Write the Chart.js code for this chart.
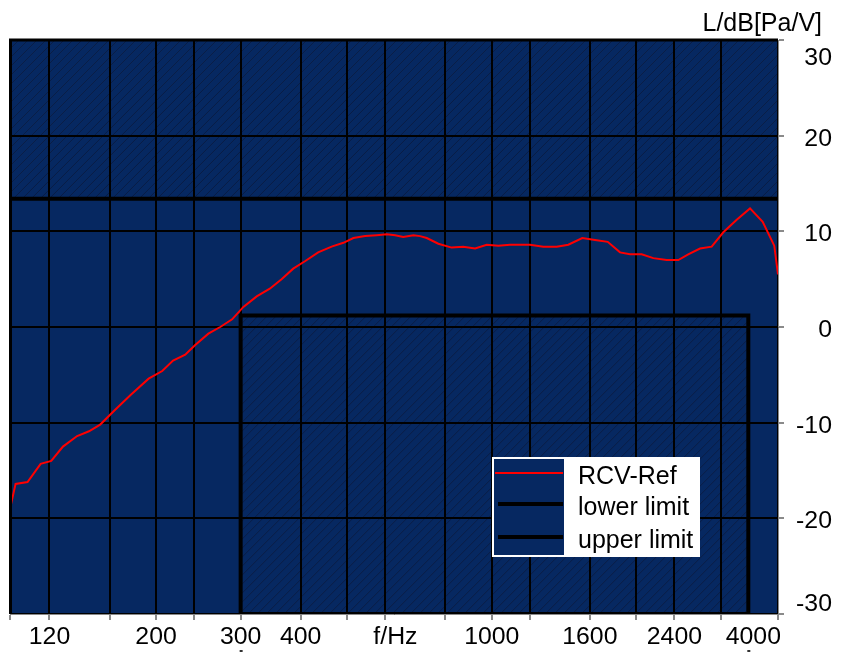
<!DOCTYPE html>
<html>
<head>
<meta charset="utf-8">
<script src="https://cdn.jsdelivr.net/npm/chart.js@4/dist/chart.umd.min.js"></script>
<style>
  html, body { margin: 0; padding: 0; background: #fff; }
  canvas { display: block; }
</style>
</head>
<body>
<canvas id="chart" width="842" height="655"></canvas>
<script>
const freqs = [99.3, 102, 108, 115, 121, 128, 137, 145, 153, 164, 177, 193, 206, 217, 230, 241,
    257, 272, 288, 304, 324, 345, 365, 386, 409, 435, 464, 491, 515, 545, 576, 604, 629, 654,
    687, 709, 732, 774, 825, 872, 923, 976, 1032, 1091, 1201, 1280, 1365, 1443, 1543, 1640,
    1743, 1849, 1940, 2051, 2169, 2313, 2445, 2564, 2713, 2869, 3034, 3235, 3448, 3664, 3873, 3943];
const levels = [-19.0, -16.4, -16.2, -14.3, -14.0, -12.5, -11.4, -10.9, -10.2, -8.7, -7.1, -5.4,
    -4.6, -3.5, -2.9, -1.9, -0.7, 0.0, 0.8, 2.1, 3.2, 4.0, 5.0, 6.1, 6.9, 7.8, 8.4, 8.8, 9.3, 9.5,
    9.6, 9.7, 9.6, 9.4, 9.6, 9.5, 9.3, 8.7, 8.3, 8.4, 8.2, 8.6, 8.5, 8.6, 8.6, 8.4, 8.4, 8.6, 9.3,
    9.1, 8.9, 7.8, 7.6, 7.6, 7.2, 7.0, 7.0, 7.6, 8.2, 8.4, 9.9, 11.2, 12.4, 11.0, 8.5, 5.5];

const lowerFreqs = [300, 300, 3420, 3420, 300];
const lowerLevels = [-30, 1.2, 1.2, -30, -30];
const upperFreqs = [99.3, 3943];
const upperLevels = [13.4, 13.4];

const xMin = 99.3;
const xMax = 3943;
const gridFreqs = [99.3, 120, 160, 200, 240, 300, 400, 500, 600, 800, 1000, 1200, 1600, 2000, 2400, 3000, 3943];
const xLabelFreqs = [120, 200, 300, 400, 630, 1000, 1600, 2400];
const xLabels = ['120', '200', '300', '400', 'f/Hz', '1000', '1600', '2400'];
const yTicks = [-30, -20, -10, 0, 10, 20, 30];
const seriesNames = ['RCV-Ref', 'lower limit', 'upper limit'];

const NAVY = '#062861';
const FONT = '"Liberation Sans", Arial, sans-serif';

function toPoints(xs, ys) {
    return xs.map(function (x, i) { return { x: x, y: ys[i] }; });
}

function hatch(ctx, x0, y0, x1, y1) {
    ctx.save();
    ctx.beginPath();
    ctx.rect(x0, y0, x1 - x0, y1 - y0);
    ctx.clip();
    ctx.strokeStyle = 'rgba(15,22,50,0.55)';
    ctx.lineWidth = 1;
    const h = y1 - y0;
    ctx.beginPath();
    for (let x = x0 - h; x < x1; x += 9) {
        ctx.moveTo(x, y1);
        ctx.lineTo(x + h, y0);
    }
    ctx.stroke();
    ctx.restore();
}

function stretchText(ctx, text, x, y, align, sx) {
    ctx.save();
    ctx.translate(x, y);
    ctx.scale(sx, 1);
    ctx.textAlign = align;
    ctx.fillText(text, 0, 0);
    ctx.restore();
}

const backdrop = {
    id: 'backdrop',
    beforeDraw: function (chart) {
        const ctx = chart.ctx;
        const a = chart.chartArea;
        const xs = chart.scales.x;
        const ys = chart.scales.y;
        ctx.save();
        ctx.fillStyle = '#fff';
        ctx.fillRect(0, 0, chart.width, chart.height);
        ctx.fillStyle = NAVY;
        ctx.fillRect(a.left, a.top, a.right - a.left, a.bottom - a.top);
        ctx.restore();
        hatch(ctx, a.left, a.top, a.right, ys.getPixelForValue(upperLevels[0]));
        hatch(ctx, xs.getPixelForValue(lowerFreqs[0]), ys.getPixelForValue(lowerLevels[1]),
            xs.getPixelForValue(lowerFreqs[2]), a.bottom);
    }
};

const overlay = {
    id: 'overlay',
    afterDraw: function (chart) {
        const ctx = chart.ctx;
        const a = chart.chartArea;
        const xs = chart.scales.x;
        const ys = chart.scales.y;
        ctx.save();

        // frame, top and left
        ctx.strokeStyle = '#000';
        ctx.lineWidth = 3;
        ctx.beginPath();
        ctx.moveTo(a.left + 0.5, a.bottom);
        ctx.lineTo(a.left + 0.5, a.top);
        ctx.lineTo(a.right, a.top);
        ctx.stroke();

        ctx.fillStyle = '#000';
        ctx.textBaseline = 'alphabetic';

        // y labels
        ctx.font = '23px ' + FONT;
        yTicks.forEach(function (v) {
            let y = ys.getPixelForValue(v) + 10;
            if (y < a.top + 25) y = a.top + 25;
            if (y > a.bottom - 3) y = a.bottom - 3;
            stretchText(ctx, String(v), 832, y, 'right', 1.08);
        });

        // x labels
        xLabelFreqs.forEach(function (f, i) {
            stretchText(ctx, xLabels[i], xs.getPixelForValue(f), 644, 'center', 1.08);
        });
        ctx.save();
        ctx.beginPath();
        ctx.rect(0, 0, a.right + 2, chart.height);
        ctx.clip();
        stretchText(ctx, '4000', a.right + 3, 644, 'right', 1.08);
        ctx.restore();

        // cut-off marks below the limit edges
        ctx.fillStyle = '#333';
        [lowerFreqs[0], lowerFreqs[2]].forEach(function (f) {
            ctx.fillRect(xs.getPixelForValue(f) - 1, 650, 3, 2);
        });

        // unit title
        ctx.fillStyle = '#000';
        ctx.font = '25px ' + FONT;
        ctx.textAlign = 'right';
        ctx.fillText('L/dB[Pa/V]', 822, 31);

        // legend
        const lx = 492, ly = 457, lw = 208, lh = 100;
        ctx.fillStyle = '#fff';
        ctx.fillRect(lx, ly, lw, lh);
        ctx.fillStyle = NAVY;
        ctx.fillRect(lx + 2, ly + 2, 70, lh - 4);
        const rows = [473, 504, 537];
        chart.data.datasets.forEach(function (ds, i) {
            ctx.strokeStyle = ds.borderColor;
            ctx.lineWidth = i === 0 ? 2 : 4;
            ctx.beginPath();
            ctx.moveTo(i === 0 ? lx + 3 : lx + 6, rows[i]);
            ctx.lineTo(lx + 71, rows[i]);
            ctx.stroke();
            ctx.fillStyle = '#000';
            ctx.textAlign = 'left';
            ctx.fillText(ds.label, 578, rows[i] + 11);
        });
        ctx.restore();
    }
};

new Chart(document.getElementById('chart'), {
    type: 'line',
    data: {
        datasets: [
            {
                label: seriesNames[0],
                data: toPoints(freqs, levels),
                borderColor: '#ff0000',
                borderWidth: 2,
                pointRadius: 0,
                tension: 0
            },
            {
                label: seriesNames[1],
                data: toPoints(lowerFreqs, lowerLevels),
                borderColor: '#000000',
                borderWidth: 4,
                pointRadius: 0,
                tension: 0
            },
            {
                label: seriesNames[2],
                data: toPoints(upperFreqs, upperLevels),
                borderColor: '#000000',
                borderWidth: 4,
                pointRadius: 0,
                tension: 0
            }
        ]
    },
    options: {
        responsive: false,
        animation: false,
        devicePixelRatio: 1,
        layout: { padding: { left: 10, top: 40, right: 0, bottom: 0 } },
        plugins: {
            legend: { display: false },
            title: { display: false },
            tooltip: { enabled: false }
        },
        scales: {
            x: {
                type: 'logarithmic',
                min: xMin,
                max: xMax,
                afterBuildTicks: function (scale) {
                    scale.ticks = gridFreqs.map(function (v) { return { value: v }; });
                },
                afterFit: function (scale) { scale.height = 41; },
                ticks: { display: false },
                grid: {
                    color: '#000',
                    lineWidth: 2,
                    tickColor: '#8a8a8a',
                    tickLength: 6
                },
                border: { display: true, color: '#8a8a8a', width: 1 }
            },
            y: {
                position: 'right',
                min: -30,
                max: 30,
                afterBuildTicks: function (scale) {
                    scale.ticks = yTicks.map(function (v) { return { value: v }; });
                },
                afterFit: function (scale) { scale.width = 64; },
                ticks: { display: false },
                grid: {
                    color: '#000',
                    lineWidth: 2,
                    tickColor: '#8a8a8a',
                    tickLength: 6
                },
                border: { display: true, color: '#8a8a8a', width: 1 }
            }
        }
    },
    plugins: [backdrop, overlay]
});
</script>
</body>
</html>
